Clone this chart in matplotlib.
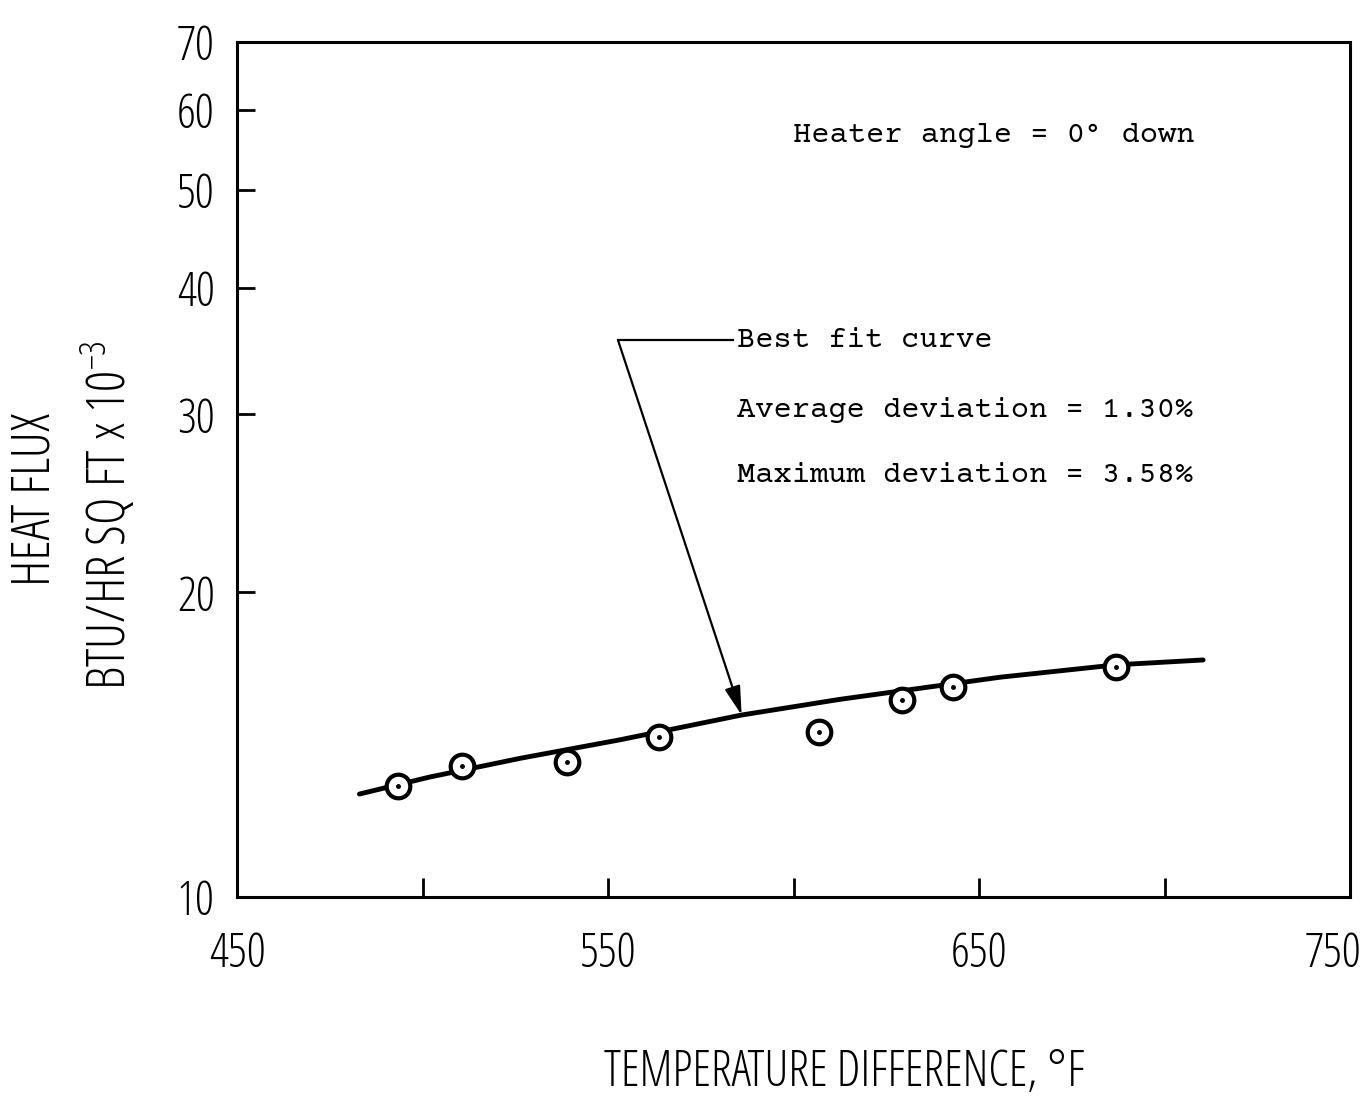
import matplotlib
matplotlib.use("Agg")
import matplotlib.pyplot as plt
import matplotlib.transforms as mtransforms
from matplotlib.font_manager import FontProperties
from matplotlib.ticker import FixedLocator, NullLocator, FixedFormatter

# measured points (temperature difference, heat flux x 1e-3)
delta_t = [493.5, 510.6, 538.9, 563.8, 606.9, 629.1, 642.9, 686.9]
heat_flux = [12.87, 13.47, 13.61, 14.40, 14.57, 15.65, 16.14, 16.89]

# best fit curve
fit_t = [483.0, 502.0, 526.3, 553.2, 586.0, 612.5, 655.7, 686.9, 710.4]
fit_q = [12.64, 13.14, 13.71, 14.30, 15.13, 15.68, 16.49, 16.96, 17.15]

x_ticks = [450, 500, 550, 600, 650, 700, 750]
x_labels = ['450', '', '550', '', '650', '', '750']
y_ticks = [10, 20, 30, 40, 50, 60, 70]
y_labels = ['10', '20', '30', '40', '50', '60', '70']

plt.rcParams['mathtext.fontset'] = 'custom'
plt.rcParams['mathtext.rm'] = 'Open Sans:stretch=condensed:weight=light'
plt.rcParams['mathtext.default'] = 'rm'

tick_font = FontProperties(family='Open Sans', stretch='condensed', weight='light', size=34)
xlab_font = FontProperties(family='Open Sans', stretch='condensed', weight='light', size=35)
ylab_font = FontProperties(family='Open Sans', stretch='condensed', weight='light', size=38)
mono = ['Courier Prime', 'IBM Plex Mono', 'DejaVu Sans Mono']

fig = plt.figure(figsize=(13.67, 10.96), dpi=100)
ax = fig.add_axes([0.1734, 0.1816, 0.8142, 0.7801])

ax.plot(fit_t, fit_q, color='black', lw=3.5, solid_capstyle='round', zorder=2)
ax.plot(delta_t, heat_flux, 'o', ms=17, mfc='white', mec='black', mew=3, zorder=3)
ax.plot(delta_t, heat_flux, '.', ms=5, color='black', zorder=4)

ax.set_yscale('log')
ax.set_xlim(450, 750)
ax.set_ylim(10, 70)

ax.xaxis.set_major_locator(FixedLocator(x_ticks))
ax.xaxis.set_major_formatter(FixedFormatter(x_labels))
ax.yaxis.set_major_locator(FixedLocator(y_ticks))
ax.yaxis.set_major_formatter(FixedFormatter(y_labels))
ax.xaxis.set_minor_locator(NullLocator())
ax.yaxis.set_minor_locator(NullLocator())

ax.tick_params(axis='x', direction='in', length=14, width=2, pad=24)
ax.tick_params(axis='y', direction='in', length=13, width=2, pad=16)
for lab in ax.get_xticklabels() + ax.get_yticklabels():
    lab.set_fontproperties(tick_font)
# last x label sits a bit left of its tick in the original
last = ax.get_xticklabels()[-1]
last.set_transform(last.get_transform() + mtransforms.ScaledTranslation(-0.17, 0, fig.dpi_scale_trans))
for spine in ax.spines.values():
    spine.set_linewidth(2.2)

fig.text(0.618, 0.021, 'TEMPERATURE DIFFERENCE, °F', fontproperties=xlab_font,
         ha='center', va='center')
fig.text(0.026, 0.544, 'HEAT FLUX', rotation=90, fontproperties=ylab_font,
         ha='center', va='center')
fig.text(0.080, 0.530, 'BTU/HR SQ FT x 10$^{-3}$', rotation=90, fontproperties=ylab_font,
         ha='center', va='center')

# annotations
ax.text(599.9, 56.6, 'Heater angle = 0° down', family=mono, fontsize=22, va='center')
ax.text(584.8, 35.5, 'Best fit curve', family=mono, fontsize=22, va='center')
ax.text(584.8, 30.3, 'Average deviation = 1.30%', family=mono, fontsize=22, va='center')
ax.text(584.8, 26.07, 'Maximum deviation = 3.58%', family=mono, fontsize=22, va='center')
ax.plot([552.7, 583.7], [35.5, 35.5], color='black', lw=1.6)
ax.annotate('', xy=(586.0, 15.13), xytext=(552.7, 35.5),
            arrowprops=dict(arrowstyle='-|>,head_length=0.8,head_width=0.22', color='black',
                            lw=1.6, mutation_scale=22, shrinkA=0, shrinkB=0))

fig.savefig('out.png', dpi=100)
